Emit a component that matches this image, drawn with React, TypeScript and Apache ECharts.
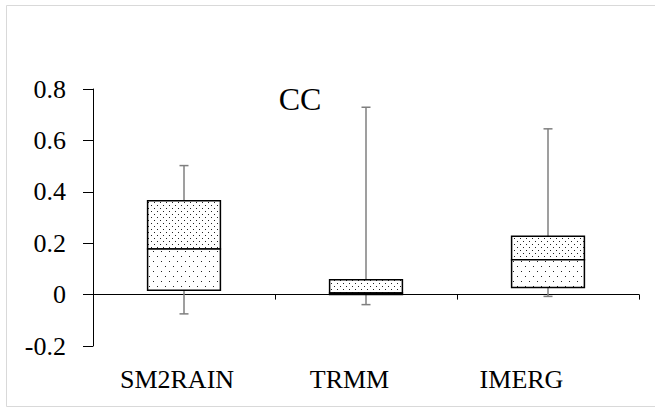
import React, { useEffect, useRef } from "react";
import * as echarts from "echarts";

const categories = ["SM2RAIN", "TRMM", "IMERG"];
const minValues = [-0.075, -0.039, -0.007];
const q1Values = [0.017, 0.0, 0.028];
const medianValues = [0.177, 0.006, 0.136];
const q3Values = [0.365, 0.058, 0.227];
const maxValues = [0.502, 0.729, 0.645];
const yTicks = [-0.2, 0, 0.2, 0.4, 0.6, 0.8];
const titleText = "CC";

const FONT = "Times New Roman";

function makePattern(w: number, h: number, dots: number[][], color: string) {
  const c = document.createElement("canvas");
  c.width = w;
  c.height = h;
  const ctx = c.getContext("2d")!;
  ctx.fillStyle = "#ffffff";
  ctx.fillRect(0, 0, w, h);
  ctx.fillStyle = color;
  dots.forEach(([x, y]) => ctx.fillRect(x, y, 1, 1));
  return { image: c.toDataURL(), repeat: "repeat", imageWidth: w, imageHeight: h } as any;
}

export default function App() {
  const ref = useRef<HTMLDivElement>(null);
  useEffect(() => {
    if (!ref.current) return;
    const chart = echarts.init(ref.current, undefined, { renderer: "svg" });
    const dense = makePattern(6, 6, [[1, 1], [4, 4]], "#222222");
    const sparse = makePattern(8, 10, [[1, 1], [5, 6]], "#222222");
    const labelShift = [14, 33, 53];
    const rich: any = {};
    categories.forEach((_, i) => {
      rich["l" + i] = {
        fontFamily: FONT,
        fontSize: 26,
        color: "#000",
        padding: [0, labelShift[i], 0, 0],
      };
    });
    const data = categories.map((c, i) => [
      i,
      minValues[i],
      q1Values[i],
      medianValues[i],
      q3Values[i],
      maxValues[i],
    ]);
    const option: any = {
      animation: false,
      grid: { left: 93, right: 16, top: 89, bottom: 63, containLabel: false },
      graphic: [
        {
          type: "rect",
          shape: { x: 6.5, y: 5.5, width: 660, height: 401 },
          style: { fill: "none", stroke: "#d9d9d9", lineWidth: 1 },
          silent: true,
        },
      ],
      xAxis: [
        {
          type: "category",
          data: categories,
          position: "bottom",
          axisLine: { show: false, onZero: false },
          axisTick: { show: false },
          splitLine: { show: false },
          axisLabel: {
            interval: 0,
            hideOverlap: false,
            margin: 20,
            fontFamily: FONT,
            fontSize: 26,
            color: "#000",
            formatter: (v: string, i: number) => `{l${i}|${v}}`,
            rich,
          },
        },
        {
          type: "category",
          data: categories,
          position: "bottom",
          axisLine: { show: true, onZero: true, lineStyle: { color: "#000", width: 1 } },
          axisTick: { show: true, inside: false, length: 5, lineStyle: { color: "#000" } },
          axisLabel: { show: false },
          splitLine: { show: false },
        },
      ],
      yAxis: {
        type: "value",
        min: yTicks[0],
        max: yTicks[yTicks.length - 1],
        interval: 0.2,
        axisLine: { show: true, lineStyle: { color: "#000", width: 1 } },
        axisTick: { show: true, inside: false, length: 10, lineStyle: { color: "#000" } },
        splitLine: { show: false },
        axisLabel: {
          margin: 27,
          fontFamily: FONT,
          fontSize: 26,
          color: "#000",
          formatter: (v: number) => String(+v.toFixed(1)),
        },
      },
      series: [
        {
          type: "custom",
          xAxisIndex: 0,
          yAxisIndex: 0,
          encode: { x: 0, y: [1, 2, 3, 4, 5] },
          data,
          z: 10,
          renderItem: (params: any, api: any) => {
            const cat = api.value(0);
            const [cx, yLow] = api.coord([cat, api.value(1)]);
            const yQ1 = api.coord([cat, api.value(2)])[1];
            const yMed = api.coord([cat, api.value(3)])[1];
            const yQ3 = api.coord([cat, api.value(4)])[1];
            const yHigh = api.coord([cat, api.value(5)])[1];
            const bw = api.size([1, 0])[0] * 0.4;
            const capW = 4.5;
            const wStyle = { stroke: "#7f7f7f", lineWidth: 1.5 };
            const bStyle = { stroke: "#000", lineWidth: 1.5 };
            return {
              type: "group",
              children: [
                { type: "line", shape: { x1: cx, y1: yHigh, x2: cx, y2: yQ3 }, style: wStyle },
                { type: "line", shape: { x1: cx, y1: yQ1, x2: cx, y2: yLow }, style: wStyle },
                { type: "line", shape: { x1: cx - capW, y1: yHigh, x2: cx + capW, y2: yHigh }, style: wStyle },
                { type: "line", shape: { x1: cx - capW, y1: yLow, x2: cx + capW, y2: yLow }, style: wStyle },
                {
                  type: "rect",
                  shape: { x: cx - bw / 2, y: yQ3, width: bw, height: yMed - yQ3 },
                  style: { fill: dense, ...bStyle },
                },
                {
                  type: "rect",
                  shape: { x: cx - bw / 2, y: yMed, width: bw, height: yQ1 - yMed },
                  style: { fill: sparse, ...bStyle },
                },
              ],
            };
          },
        },
      ],
    };
    chart.setOption(option);
    return () => chart.dispose();
  }, []);
  return (
    <>
      <style>{`.cc-chart svg text, .cc-chart svg tspan { font-family: "Times New Roman", "Liberation Serif", serif !important; }`}</style>
      <div
        ref={ref}
        className="cc-chart"
        style={{ position: "absolute", left: 0, top: 0, width: 655, height: 409, background: "#fff", fontFamily: "Times New Roman" }}
      />
      <div
        style={{
          position: "absolute",
          left: 200,
          top: 79,
          width: 200,
          height: 40,
          lineHeight: "40px",
          textAlign: "center",
          fontFamily: "'Times New Roman', 'Liberation Serif', serif",
          fontSize: 32,
          color: "#000",
        }}
      >
        {titleText}
      </div>
    </>
  );
}
